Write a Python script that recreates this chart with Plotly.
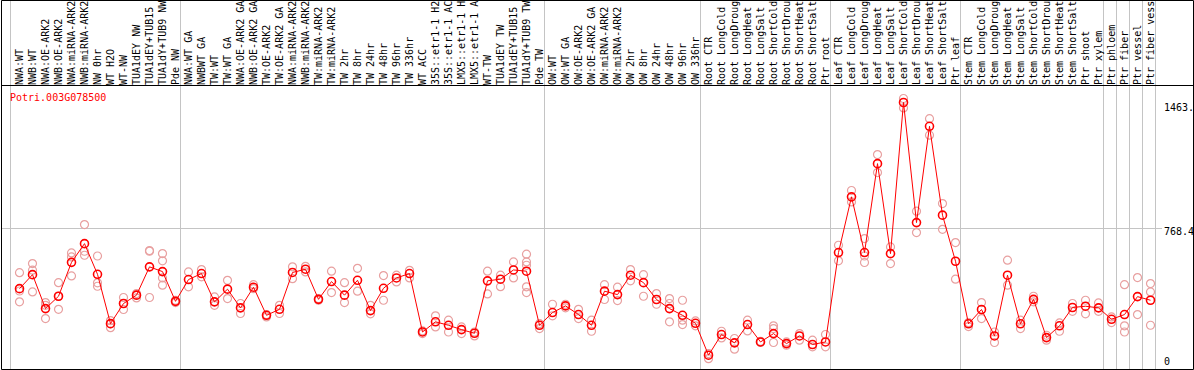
import plotly.graph_objects as go

# ---------------- data ----------------
categories = [
    "NWA:WT", "NWB:WT", "NWA:OE-ARK2", "NWB:OE-ARK2", "NWA:miRNA-ARK2", "NWB:miRNA-ARK2",
    "NW 0hr", "WT H2O", "WT-NW", "TUA1dEY NW", "TUA1dEY+TUB15 NW", "TUA1dY+TUB9 NW", "Pde NW",
    "NWA:WT GA", "NWBWT GA", "TW:WT", "TW:WT GA", "NWA:OE-ARK2 GA", "NWB:OE-ARK2 GA",
    "TW:OE-ARK2", "TW:OE-ARK2 GA", "NWA:miRNA-ARK2", "NWB:miRNA-ARK2", "TW:miRNA-ARK2",
    "TW:miRNA-ARK2", "TW 2hr", "TW 8hr", "TW 24hr", "TW 48hr", "TW 96hr", "TW 336hr",
    "WT ACC", "35S::etr1-1 H2O", "35S::etr1-1 ACC", "LMX5::etr1-1 H2O", "LMX5::etr1-1 ACC",
    "WT-TW", "TUA1dEY TW", "TUA1dEY+TUB15 TW", "TUA1dY+TUB9 TW", "Pde TW",
    "OW:WT", "OW:WT GA", "OW:OE-ARK2", "OW:OE-ARK2 GA", "OW:miRNA-ARK2", "OW:miRNA-ARK2",
    "OW 2hr", "OW 8hr", "OW 24hr", "OW 48hr", "OW 96hr", "OW 336hr",
    "Root CTR", "Root LongCold", "Root LongDrought", "Root LongHeat", "Root LongSalt",
    "Root ShortCold", "Root ShortDrought", "Root ShortHeat", "Root ShortSalt", "Ptr root",
    "Leaf CTR", "Leaf LongCold", "Leaf LongDrought", "Leaf LongHeat", "Leaf LongSalt",
    "Leaf ShortCold", "Leaf ShortDrought", "Leaf ShortHeat", "Leaf ShortSalt", "Ptr leaf",
    "Stem CTR", "Stem LongCold", "Stem LongDrought", "Stem LongHeat", "Stem LongSalt",
    "Stem ShortCold", "Stem ShortDrought", "Stem ShortHeat", "Stem ShortSalt",
    "Ptr shoot", "Ptr xylem", "Ptr phloem", "Ptr fiber", "Ptr vessel", "Ptr fiber vessel",
]

mean_values = [
    437, 514, 327, 395, 582, 685, 516, 244, 355, 401,
    557, 531, 367, 487, 520, 364, 434, 331, 445, 290,
    323, 526, 544, 378, 476, 401, 483, 316, 439, 496,
    520, 198, 254, 235, 211, 191, 480, 489, 540, 533,
    235, 305, 342, 294, 235, 423, 404, 511, 470, 377,
    327, 290, 246, 70, 184, 138, 239, 143, 189, 134,
    176, 129, 143, 636, 943, 636, 1126, 630, 1463, 801,
    1332, 842, 588, 243, 322, 176, 511, 243, 378, 167,
    232, 333, 340, 331, 268, 294, 393, 373,
]

replicate_values = [
    [525, 424, 364], [575, 539, 419], [360, 345, 272], [470, 395, 323], [634, 612, 507],
    [790, 643, 621], [617, 469, 450], [261, 243, 222], [388, 355, 322], [410, 401, 386],
    [647, 643, 388], [630, 590, 496, 456], [373, 360], [529, 447], [542, 502],
    [391, 345], [483, 382], [355, 300], [459, 437], [294, 281],
    [345, 300], [557, 492], [560, 529], [382, 373], [533, 415],
    [470, 360], [549, 423], [345, 298], [509, 373], [511, 474],
    [538, 496], [204, 189], [287, 226], [263, 198], [226, 189],
    [198, 176], [533, 408], [511, 448], [584, 496], [627, 584, 566, 447, 415],
    [244, 217], [351, 287], [351, 331], [323, 272], [263, 202],
    [459, 377], [445, 371], [542, 480], [514, 395], [410, 351],
    [382, 355, 254], [373, 263, 239], [259, 232], [79, 51], [202, 165],
    [162, 103], [263, 204], [147, 140], [232, 217, 140], [143, 125],
    [189, 153], [153, 116], [184, 116], [676, 590], [978, 915],
    [713, 617, 581], [1176, 1077], [667, 575], [1485, 1433], [864, 746],
    [1374, 1283], [906, 764], [691, 489], [250, 228], [360, 272],
    [198, 140], [594, 456], [263, 217], [395, 364], [180, 153],
    [248, 202], [355, 312], [373, 298], [358, 312], [281, 250],
    [459, 232, 198], [498, 294], [465, 419, 235],
]

gene_name = "Potri.003G078500"
scale_values = [1463, 768.4, 0]
scale_labels = ["1463.", "768.4", "0"]
group_ends = [12, 40, 52, 62, 72, 83, 84, 85, 86, 87]

# ---------------- layout constants ----------------
W, H = 1194, 370
ML, MR, MT, MB = 1, 1, 86, 1
PW, PH = W - ML - MR, H - MT - MB
PX_PER_CAT = 13.0
FIRST_OFFSET = 18.5          # px from plot-area left to first category
x_r0 = -FIRST_OFFSET / PX_PER_CAT
x_r1 = x_r0 + PW / PX_PER_CAT
units_per_px = 694.6 / 126.0
zero_px = 367.9 - MT           # px below plot top where value 0 sits
y_top = zero_px * units_per_px
y_bot = -(PH - zero_px) * units_per_px

FONT = "DejaVu Sans Mono"
GRID = "#C4C4C4"
RED = "#FF0000"
PALE = "#E8A0A0"

x_idx = list(range(len(categories)))
rx, ry = [], []
for i, reps in enumerate(replicate_values):
    for v in reps:
        rx.append(i)
        ry.append(v)

fig = go.Figure()
fig.add_trace(go.Scatter(
    x=rx, y=ry, mode="markers",
    marker=dict(symbol="circle-open", size=8, color=PALE, line=dict(width=1.2, color=PALE)),
    showlegend=False, hoverinfo="skip",
))
fig.add_trace(go.Scatter(
    x=x_idx, y=mean_values, mode="lines+markers",
    line=dict(color=RED, width=1),
    marker=dict(symbol="circle-open", size=8, color=RED, line=dict(width=1.6, color=RED)),
    showlegend=False,
))

top_paper = (PH + MT - 0.5) / PH
shapes = []
# vertical group separators (span header and plot)
bounds = [-9.0 / 13.0] + [e + 5.0 / 13.0 for e in group_ends]
for b in bounds:
    shapes.append(dict(type="line", xref="x", yref="paper", x0=b, x1=b, y0=0, y1=top_paper,
                       line=dict(color=GRID, width=1), layer="below"))
# horizontal reference line
shapes.append(dict(type="line", xref="paper", yref="y", x0=0, x1=(1162 - ML) / PW,
                   y0=scale_values[1], y1=scale_values[1], line=dict(color=GRID, width=1), layer="below"))
# outer border
shapes.append(dict(type="rect", xref="paper", yref="paper",
                   x0=0.5 / PW, x1=(PW + 0.5) / PW, y0=-0.5 / PH, y1=top_paper,
                   line=dict(color="black", width=1), layer="above"))
# header separator
shapes.append(dict(type="line", xref="paper", yref="paper", x0=0, x1=1,
                   y0=(PH + 0.5) / PH, y1=(PH + 0.5) / PH,
                   line=dict(color="black", width=1), layer="above"))

annotations = [dict(
    text=gene_name, xref="paper", yref="paper", x=(9 - ML) / PW, y=(H - MB - 97) / PH,
    xanchor="left", yanchor="middle", showarrow=False, borderpad=0,
    font=dict(family=FONT, size=10, color=RED),
)]
shifts = [-5.4, -3.4, 6.0]
for val, lab, sh in zip(scale_values, scale_labels, shifts):
    annotations.append(dict(
        text=lab, xref="paper", yref="y", x=(1163 - ML) / PW, y=val,
        xanchor="left", yanchor="middle", yshift=sh, showarrow=False, borderpad=0,
        font=dict(family=FONT, size=10, color="black"),
    ))

fig.update_layout(
    width=W, height=H,
    margin=dict(l=ML, r=MR, t=MT, b=MB, pad=0),
    paper_bgcolor="white", plot_bgcolor="white",
    shapes=shapes, annotations=annotations,
    xaxis=dict(
        range=[x_r0, x_r1], side="top", tickmode="array", tickvals=x_idx, ticktext=categories,
        tickangle=-90, tickfont=dict(family=FONT, size=10, color="black"),
        ticks="", showgrid=False, zeroline=False, showline=False,
        ticklabeloverflow="allow", automargin=False, fixedrange=True,
    ),
    yaxis=dict(
        range=[y_bot, y_top], showgrid=False, zeroline=False, showline=False,
        showticklabels=False, ticks="", automargin=False, fixedrange=True,
    ),
    font=dict(family=FONT),
    showlegend=False,
)

fig.write_html(
    "out.html",
    config={"displayModeBar": False, "staticPlot": True},
    post_script="document.body.style.margin='0';document.body.style.overflow='hidden';",
)
